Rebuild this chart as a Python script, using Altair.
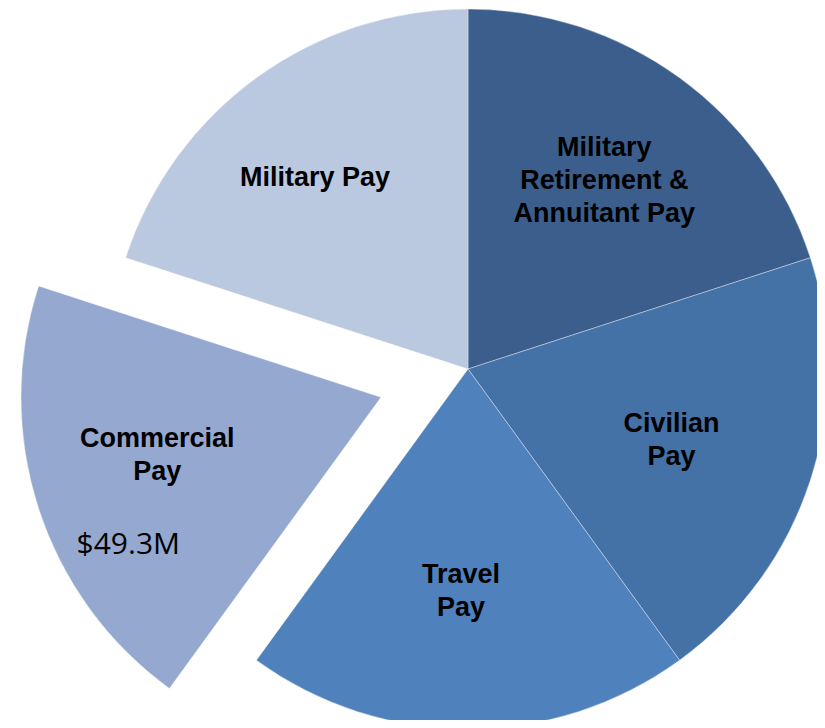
import math
import altair as alt
import pandas as pd

# ---- data ----
categories = ["Military Retirement & Annuitant Pay", "Civilian Pay", "Travel Pay",
              "Commercial Pay", "Military Pay"]
label_text = ["Military\nRetirement &\nAnnuitant Pay", "Civilian\nPay", "Travel\nPay",
              "Commercial\nPay", "Military Pay"]
shares = [20, 20, 20, 20, 20]
slice_colors = ["#3B5E8C", "#4471A6", "#4F81BD", "#95A9D0", "#BAC8E0"]
exploded = "Commercial Pay"
exploded_amount = "$49.3M"

df = pd.DataFrame({"category": categories, "label": label_text, "share": shares,
                   "order": list(range(len(categories)))})

# ---- layout / style ----
W, H = 809, 712
CX, CY = 460, 361
R = 360
EXPLODE = 91.5
LINE_H = 33
total = sum(shares)
idx = categories.index(exploded)
mid_frac = (sum(shares[:idx]) + shares[idx] / 2) / total
ang = 2 * math.pi * mid_frac
EX, EY = CX + EXPLODE * math.sin(ang), CY - EXPLODE * math.cos(ang)

label_radius = {"Military Retirement & Annuitant Pay": 232, "Civilian Pay": 215,
                "Travel Pay": 222, "Commercial Pay": 231, "Military Pay": 245}
label_nudge = {"Military Retirement & Annuitant Pay": (0, 0), "Civilian Pay": (-1, 5),
               "Travel Pay": (-7, 0), "Commercial Pay": (-4, -13), "Military Pay": (-9, 7)}

theta_scale = alt.Scale(domain=[0, total], range=[0, 2 * math.pi])
color_scale = alt.Scale(domain=categories, range=slice_colors)

base = alt.Chart(df).transform_stack(
    stack="share", as_=["start", "end"], groupby=[],
    sort=[alt.SortField("order", order="ascending")]
).transform_calculate(mid="(datum.start + datum.end) / 2")


def arcs(cond, x, y):
    return base.transform_filter(cond).mark_arc(
        radius=R, stroke="#ffffff", strokeWidth=0.6, strokeOpacity=0.6
    ).encode(
        theta=alt.Theta("start:Q", scale=theta_scale, stack=False),
        theta2="end:Q",
        color=alt.Color("category:N", scale=color_scale, legend=None),
        x=alt.value(x), y=alt.value(y),
    )


layers = [
    arcs(alt.datum.category != exploded, CX, CY),
    arcs(alt.datum.category == exploded, EX, EY),
]

for cat, lab in zip(categories, label_text):
    cx, cy = (EX, EY) if cat == exploded else (CX, CY)
    ndx, ndy = label_nudge[cat]
    n_lines = lab.count("\n") + 1
    layers.append(
        base.transform_filter(alt.datum.category == cat).mark_text(
            radius=label_radius[cat], font="Liberation Sans", fontWeight="bold",
            fontSize=27, lineBreak="\n", lineHeight=LINE_H, align="center",
            baseline="middle", color="#000000", dx=ndx,
            dy=ndy - (n_lines - 1) * LINE_H / 2
        ).encode(
            theta=alt.Theta("mid:Q", scale=theta_scale, stack=False),
            text="label:N",
            x=alt.value(cx), y=alt.value(cy),
        )
    )

layers.append(
    base.transform_filter(alt.datum.category == exploded).transform_calculate(
        amount=f"'{exploded_amount}'"
    ).mark_text(
        radius=label_radius[exploded], font="Open Sans", fontSize=30,
        align="center", baseline="middle", color="#000000",
        dx=label_nudge[exploded][0] - 29, dy=label_nudge[exploded][1] + 89
    ).encode(
        theta=alt.Theta("mid:Q", scale=theta_scale, stack=False),
        text="amount:N",
        x=alt.value(EX), y=alt.value(EY),
    )
)

chart = alt.layer(*layers).properties(
    width=W, height=H, padding=0, autosize=alt.AutoSizeParams(type="none"),
    background="#ffffff"
).configure_view(stroke=None)

chart.save("out.html", embed_options={"renderer": "svg", "actions": False})
